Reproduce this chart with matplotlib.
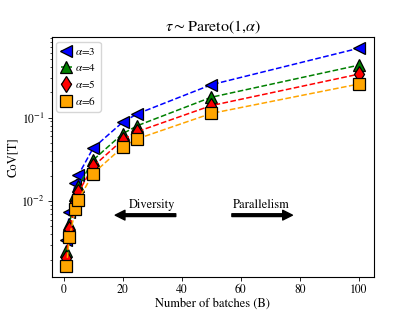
import matplotlib
matplotlib.use("Agg")
import matplotlib.pyplot as plt

plt.rcParams['font.family'] = ['STIXGeneral', 'DejaVu Serif']
plt.rcParams['mathtext.fontset'] = 'stix'

batches = [1, 2, 4, 5, 10, 20, 25, 50, 100]
cov_a3 = [0.0034, 0.0075, 0.0165, 0.0205, 0.043, 0.088, 0.111, 0.247, 0.676]
cov_a4 = [0.0025, 0.0054, 0.0118, 0.0150, 0.031, 0.064, 0.080, 0.175, 0.424]
cov_a5 = [0.0021, 0.0046, 0.0099, 0.0127, 0.026, 0.054, 0.068, 0.139, 0.331]
cov_a6 = [0.00168, 0.0037, 0.0080, 0.0103, 0.0214, 0.0443, 0.0557, 0.112, 0.252]
labels = [r'$\alpha$=3', r'$\alpha$=4', r'$\alpha$=5', r'$\alpha$=6']

fig, ax = plt.subplots(figsize=(4.15, 3.11), dpi=100)

series = [cov_a3, cov_a4, cov_a5, cov_a6]
colors = ['blue', 'green', 'red', 'orange']
markers = ['<', '^', 'd', 's']
for ys, c, m, lab in zip(series, colors, markers, labels):
    ax.plot(batches, ys, linestyle='--', color=c, lw=1.1, marker=m,
            markersize=8.5, markerfacecolor=c, markeredgecolor='black',
            markeredgewidth=0.9, label=lab)

ax.set_yscale('log')
ax.set_xticks([0, 20, 40, 60, 80, 100])
ax.set_xlabel('Number of batches (B)', fontsize=9, labelpad=2)
ax.set_ylabel('CoV[T]', fontsize=9, labelpad=2)
ax.set_title(r'$\tau\sim$Pareto(1,$\alpha$)', fontsize=11.5, pad=4)
ax.tick_params(labelsize=8.5, pad=2, length=3, width=0.6)
ax.tick_params(which='minor', length=1.8, width=0.5)
for s in ax.spines.values():
    s.set_linewidth(0.8)

ax.legend(loc='upper left', fontsize=8, handlelength=1.0, handletextpad=0.3,
          borderpad=0.4, labelspacing=0.45, borderaxespad=0.4)

arrow_kw = dict(facecolor='black', edgecolor='black', width=2.0, headwidth=7, headlength=7)
ax.annotate('', xy=(17.5, 0.0068), xytext=(38, 0.0068), arrowprops=arrow_kw)
ax.text(30, 0.0077, 'Diversity', ha='center', va='bottom', fontsize=9)
ax.annotate('', xy=(77.5, 0.0068), xytext=(57, 0.0068), arrowprops=arrow_kw)
ax.text(67, 0.0077, 'Parallelism', ha='center', va='bottom', fontsize=9)

fig.savefig('out.png', dpi=100)
